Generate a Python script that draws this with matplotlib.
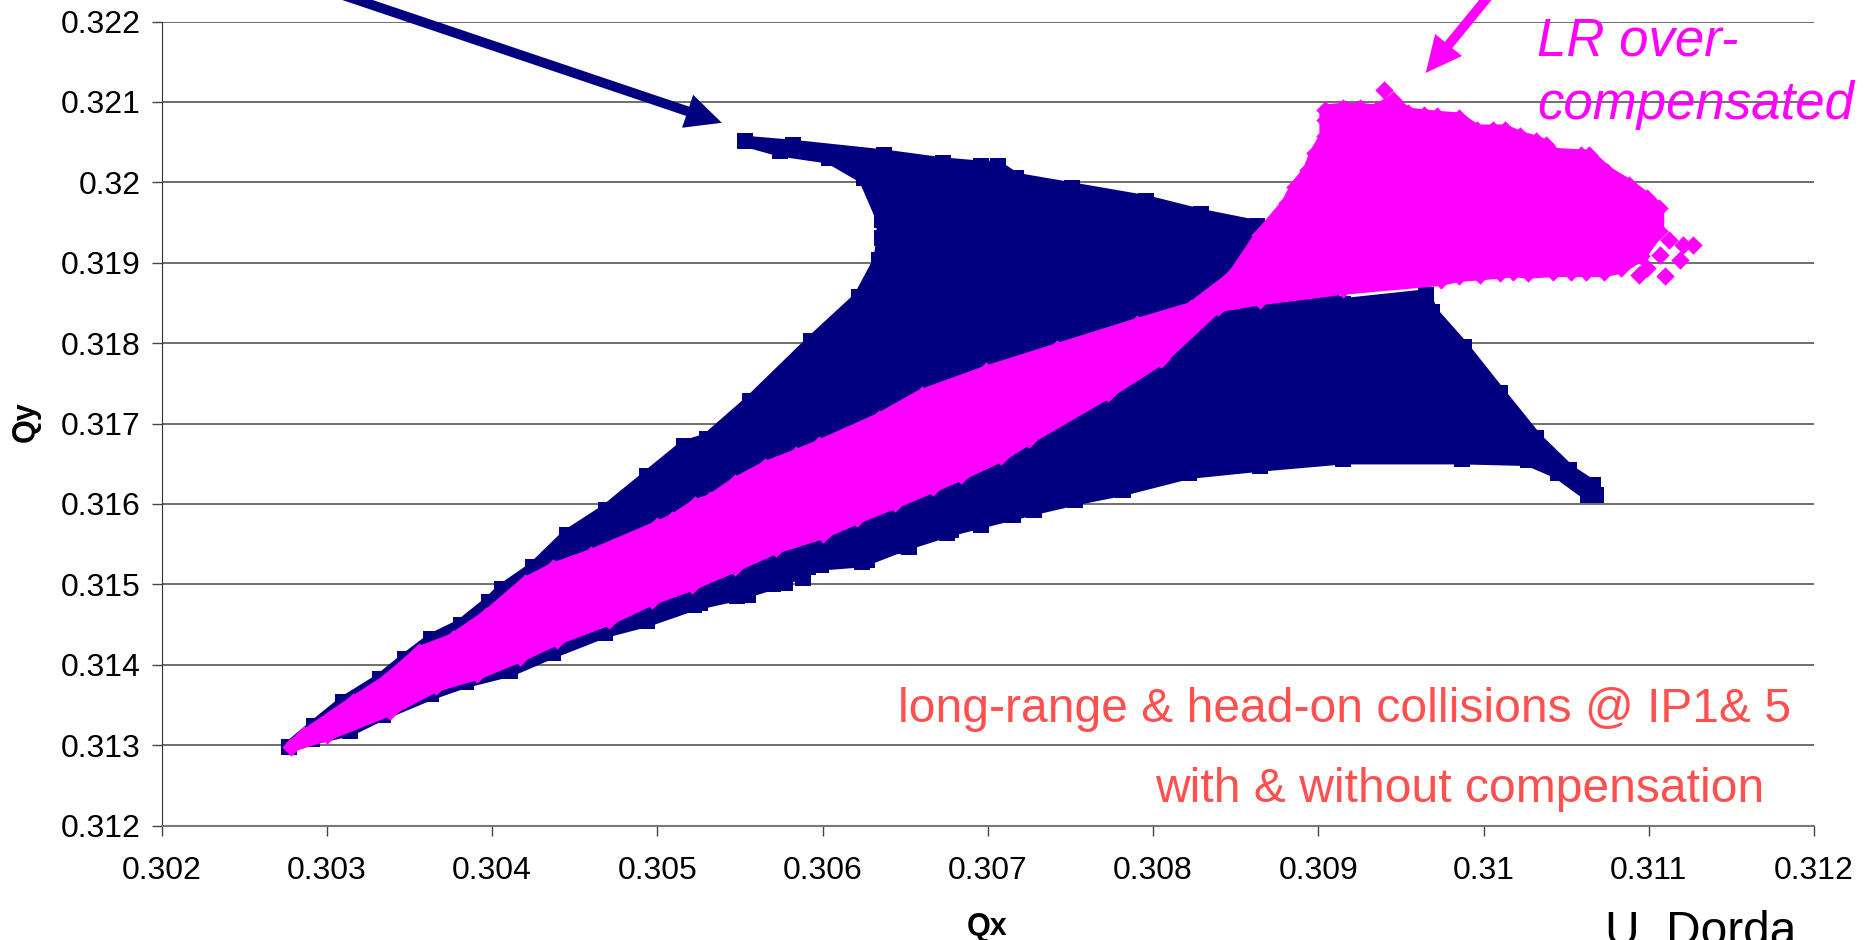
import matplotlib
matplotlib.use('Agg')
import matplotlib.pyplot as plt

plt.rcParams['font.family'] = ['Liberation Sans', 'DejaVu Sans']

# Data: footprint outlines
qx_nocomp = [0.30277, 0.30292, 0.30310, 0.30332, 0.30347, 0.30363, 0.30381, 0.30398, 0.30406, 0.30425,
             0.30445, 0.30469, 0.30494, 0.30516, 0.30530, 0.30556, 0.30593, 0.30622, 0.30634, 0.30636,
             0.30636, 0.30625, 0.30604, 0.30574, 0.30553, 0.30582, 0.30637, 0.30673, 0.30696, 0.30706,
             0.30717, 0.30751, 0.30796, 0.30829, 0.30863, 0.30894, 0.30915, 0.30965, 0.30969, 0.30988,
             0.31010, 0.31032, 0.31052, 0.31066, 0.31068, 0.31063, 0.31045, 0.31027, 0.30987, 0.30915,
             0.30865, 0.30822, 0.30782, 0.30753, 0.30728, 0.30678, 0.30649, 0.30624, 0.30599, 0.30570,
             0.30548, 0.30522, 0.30494, 0.30468, 0.30437, 0.30411, 0.30384, 0.30363, 0.30334, 0.30314,
             0.30291]
qy_nocomp = [0.31298, 0.31324, 0.31354, 0.31382, 0.31407, 0.31432, 0.31450, 0.31478, 0.31494, 0.31521,
             0.31561, 0.31593, 0.31635, 0.31672, 0.31681, 0.31728, 0.31802, 0.31857, 0.31903, 0.31931,
             0.31953, 0.32005, 0.32030, 0.32039, 0.32051, 0.32046, 0.32034, 0.32024, 0.32020, 0.32020,
             0.32005, 0.31993, 0.31977, 0.31960, 0.31946, 0.31872, 0.31849, 0.31860, 0.31839, 0.31795,
             0.31738, 0.31682, 0.31642, 0.31623, 0.31611, 0.31611, 0.31638, 0.31654, 0.31656, 0.31656,
             0.31647, 0.31638, 0.31617, 0.31605, 0.31593, 0.31567, 0.31548, 0.31528, 0.31524, 0.31500,
             0.31486, 0.31474, 0.31454, 0.31440, 0.31415, 0.31392, 0.31378, 0.31363, 0.31338, 0.31318,
             0.31307]

# ends of the separate strands along the lower edge
qx_strands = [0.30577, 0.30588, 0.30555, 0.30526, 0.30609, 0.30627, 0.30652, 0.30675, 0.30696,
              0.30715, 0.30591, 0.30618, 0.30633, 0.30659, 0.30706, 0.30543, 0.30508]
qy_strands = [0.31502, 0.31508, 0.31487, 0.31477, 0.31530, 0.31530, 0.31546, 0.31564, 0.31574,
              0.31586, 0.31522, 0.31549, 0.31546, 0.31564, 0.31592, 0.31497, 0.31477]

qx_comp = [0.30278, 0.30286, 0.30316, 0.30335, 0.30356, 0.30376, 0.30396, 0.30420, 0.30437, 0.30460,
           0.30500, 0.30509, 0.30523, 0.30532, 0.30547, 0.30565, 0.30584, 0.30598, 0.30634, 0.30660,
           0.30699, 0.30742, 0.30790, 0.30823, 0.30848, 0.30865, 0.30881, 0.30886, 0.30894, 0.30898,
           0.30904, 0.30904, 0.30904, 0.30915, 0.30925, 0.30935, 0.30945, 0.30954, 0.30964, 0.30972,
           0.30985, 0.30996, 0.31006, 0.31013, 0.31022, 0.31032, 0.31038, 0.31042, 0.31059, 0.31064,
           0.31075, 0.31088, 0.31099, 0.31106, 0.31106, 0.31095, 0.31083, 0.31073, 0.31062, 0.31053,
           0.31042, 0.31027, 0.31018, 0.31010, 0.30998, 0.30985, 0.30974, 0.30915, 0.30865, 0.30839,
           0.30805, 0.30773, 0.30725, 0.30708, 0.30684, 0.30667, 0.30644, 0.30621, 0.30600, 0.30572,
           0.30547, 0.30521, 0.30497, 0.30471, 0.30439, 0.30417, 0.30391, 0.30366, 0.30338, 0.30300]
qy_comp = [0.31298, 0.31312, 0.31354, 0.31379, 0.31416, 0.31432, 0.31460, 0.31502, 0.31520, 0.31537,
           0.31572, 0.31580, 0.31599, 0.31605, 0.31626, 0.31646, 0.31661, 0.31673, 0.31706, 0.31736,
           0.31765, 0.31793, 0.31824, 0.31844, 0.31883, 0.31935, 0.31974, 0.31994, 0.32015, 0.32036,
           0.32057, 0.32077, 0.32090, 0.32092, 0.32092, 0.32090, 0.32102, 0.32086, 0.32084, 0.32082,
           0.32080, 0.32065, 0.32065, 0.32065, 0.32057, 0.32051, 0.32046, 0.32036, 0.32034, 0.32034,
           0.32013, 0.31997, 0.31980, 0.31968, 0.31939, 0.31908, 0.31893, 0.31889, 0.31889, 0.31889,
           0.31889, 0.31887, 0.31889, 0.31887, 0.31885, 0.31883, 0.31878, 0.31867, 0.31854, 0.31845,
           0.31780, 0.31738, 0.31681, 0.31659, 0.31636, 0.31621, 0.31601, 0.31582, 0.31563, 0.31545,
           0.31522, 0.31499, 0.31481, 0.31456, 0.31431, 0.31410, 0.31388, 0.31373, 0.31343, 0.31312]

# stray points outside the compensated footprint
qx_stray = [0.30940, 0.31112, 0.31121, 0.31127, 0.31119, 0.31110, 0.31107, 0.31099, 0.31094]
qy_stray = [0.32115, 0.31928, 0.31922, 0.31922, 0.31903, 0.31883, 0.31910, 0.31893, 0.31885]

xticks = [0.302, 0.303, 0.304, 0.305, 0.306, 0.307, 0.308, 0.309, 0.31, 0.311, 0.312]
yticks = [0.312, 0.313, 0.314, 0.315, 0.316, 0.317, 0.318, 0.319, 0.32, 0.321, 0.322]

navy = '#000080'
pink = '#FF00FF'
salmon = '#FF5050'

fig = plt.figure(figsize=(18.64, 9.40), dpi=100)
ax = fig.add_axes([161.7 / 1864, (940 - 825.5) / 940, (1814 - 161.7) / 1864, 804 / 940])

ax.fill(qx_nocomp, qy_nocomp, facecolor=navy, edgecolor=navy, lw=8, joinstyle='round', zorder=3)
ax.scatter(qx_nocomp, qy_nocomp, marker='s', s=125, color=navy, lw=0, zorder=3, clip_on=False)
ax.scatter(qx_strands, qy_strands, marker='s', s=125, color=navy, lw=0, zorder=3, clip_on=False)
ax.fill(qx_comp, qy_comp, facecolor=pink, edgecolor=pink, lw=8, joinstyle='round', zorder=4)
ax.scatter(qx_comp, qy_comp, marker='D', s=88, color=pink, lw=0, zorder=4, clip_on=False)
ax.scatter(qx_stray, qy_stray, marker='D', s=88, color=pink, lw=0, zorder=4, clip_on=False)

ax.set_xlim(0.302, 0.312)
ax.set_ylim(0.312, 0.322)
ax.set_xticks(xticks)
ax.set_yticks(yticks)
ax.set_xticklabels(['0.302', '0.303', '0.304', '0.305', '0.306', '0.307', '0.308', '0.309', '0.31', '0.311', '0.312'])
ax.set_yticklabels(['0.312', '0.313', '0.314', '0.315', '0.316', '0.317', '0.318', '0.319', '0.32', '0.321', '0.322'])
ax.tick_params(labelsize=23, length=7, width=1, color='#444444')
ax.tick_params(axis='x', pad=15)
ax.tick_params(axis='y', pad=8)
ax.grid(axis='y', color='#555555', lw=1.2, zorder=1)
ax.set_axisbelow(True)
ax.spines['top'].set_visible(False)
ax.spines['right'].set_visible(False)
ax.spines['left'].set_color('#333333')
ax.spines['bottom'].set_color('#777777')
ax.spines['bottom'].set_linewidth(1.5)

fig.text(987 / 1864, (940 - 927) / 940, 'Qx', fontsize=22, fontweight='bold', ha='center', va='center')
fig.text(26 / 1864, (940 - 422) / 940, 'Qy', fontsize=22, fontweight='bold', ha='center', va='center', rotation=90)

# arrows
arrow = 'simple,head_length=2.6,head_width=2.5,tail_width=0.7'
ax.annotate('', xy=(0.30539, 0.32074), xytext=(0.30308, 0.32234), annotation_clip=False,
            arrowprops=dict(arrowstyle=arrow, lw=0, color=navy, shrinkA=0, shrinkB=0, mutation_scale=10))
ax.annotate('', xy=(0.30965, 0.32136), xytext=(0.31004, 0.32234), annotation_clip=False,
            arrowprops=dict(arrowstyle=arrow, lw=0, color=pink, shrinkA=0, shrinkB=0, mutation_scale=10))

# labels on the picture
fig.text(1537 / 1864, (940 - 42) / 940, 'LR over-', fontsize=38, fontstyle='italic', color=pink, ha='left', va='center')
fig.text(1537 / 1864, (940 - 105) / 940, 'compensated', fontsize=38, fontstyle='italic', color=pink, ha='left', va='center')
fig.text(1345 / 1864, (940 - 709) / 940, 'long-range & head-on collisions @ IP1& 5', fontsize=34.6, color=salmon, ha='center', va='center')
fig.text(1460 / 1864, (940 - 789) / 940, 'with & without compensation', fontsize=34.6, color=salmon, ha='center', va='center')
fig.text(1605 / 1864, (940 - 945) / 940, 'U. Dorda', fontsize=34.5, color='black', ha='left', va='baseline')

fig.savefig('out.png', dpi=100)
